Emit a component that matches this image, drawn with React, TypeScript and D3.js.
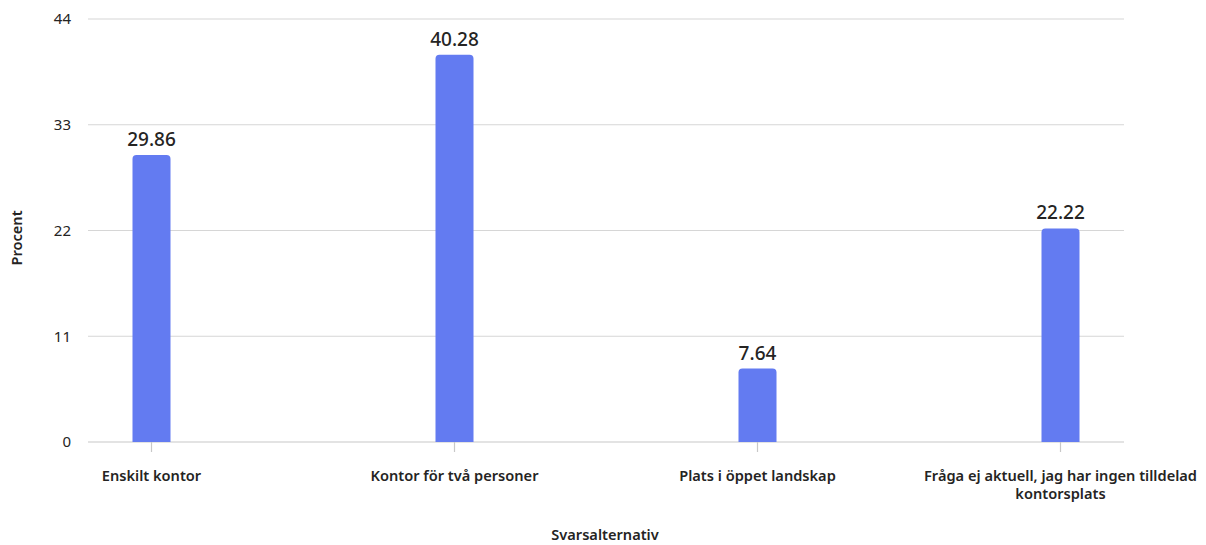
import React from "react";
import * as d3 from "d3";

const categories = [
  "Enskilt kontor",
  "Kontor för två personer",
  "Plats i öppet landskap",
  "Fråga ej aktuell, jag har ingen tilldelad kontorsplats",
];
const values = [29.86, 40.28, 7.64, 22.22];
const yTicks = [0, 11, 22, 33, 44];
const xTitle = "Svarsalternativ";
const yTitle = "Procent";

const W = 1206;
const H = 545;
const FONT = "'Noto Sans', 'Open Sans', sans-serif";

function wrapLabel(label: string): string[] {
  if (label.length <= 40) return [label];
  const idx = label.lastIndexOf(" ", 41);
  return [label.slice(0, idx), label.slice(idx + 1)];
}

export default function App() {
  const y = d3.scaleLinear().domain([0, 44]).range([442, 19]);
  const x = d3.scaleBand<string>().domain(categories).range([0, 1212]).paddingInner(0).paddingOuter(0);
  const barW = 38;
  const gridX0 = 88;
  const gridX1 = 1124;

  return (
    <svg
      width={W}
      height={H}
      style={{ position: "absolute", left: 0, top: 0, background: "#fff" }}
      fontFamily={FONT}
    >
      <defs>
        <clipPath id="clipArea">
          <rect x={0} y={0} width={1197} height={H} />
        </clipPath>
      </defs>
      {yTicks.map((t) => (
        <g key={t}>
          <line x1={gridX0} x2={gridX1} y1={y(t)} y2={y(t)} stroke={t === 0 ? "#c8c8c8" : "#d6d6d6"} strokeWidth={1.2} />
          <text x={71} y={y(t)} dy="0.35em" textAnchor="end" fontSize={15} fill="#252423">
            {t}
          </text>
        </g>
      ))}
      <g clipPath="url(#clipArea)">
        {categories.map((c, i) => {
          const cx = (x(c) as number) + x.bandwidth() / 2;
          const top = y(values[i]);
          const h = y(0) - top;
          const r = 4;
          const path = `M${cx - barW / 2},${y(0)} V${top + r} Q${cx - barW / 2},${top} ${cx - barW / 2 + r},${top} H${cx + barW / 2 - r} Q${cx + barW / 2},${top} ${cx + barW / 2},${top + r} V${y(0)} Z`;
          const lines = wrapLabel(c);
          return (
            <g key={c}>
              <line x1={cx} x2={cx} y1={y(0)} y2={y(0) + 10} stroke="#c8c8c8" strokeWidth={1.2} />
              <path d={path} fill="#637bf1" />
              {h > 0 && (
                <text x={cx} y={top - 9} textAnchor="middle" fontSize={19} fontWeight={500} fill="#252423">
                  {values[i].toFixed(2)}
                </text>
              )}
              {lines.map((ln, j) => (
                <text key={j} x={cx} y={481 + j * 18} textAnchor="middle" fontSize={14.6} fontWeight={600} fill="#252423">
                  {ln}
                </text>
              ))}
            </g>
          );
        })}
      </g>
      <text x={605} y={540} textAnchor="middle" fontSize={14.6} fontWeight={600} fill="#252423">
        {xTitle}
      </text>
      <text
        transform={`translate(22,238) rotate(-90)`}
        textAnchor="middle"
        fontSize={14.6}
        fontWeight={600}
        fill="#252423"
      >
        {yTitle}
      </text>
    </svg>
  );
}
